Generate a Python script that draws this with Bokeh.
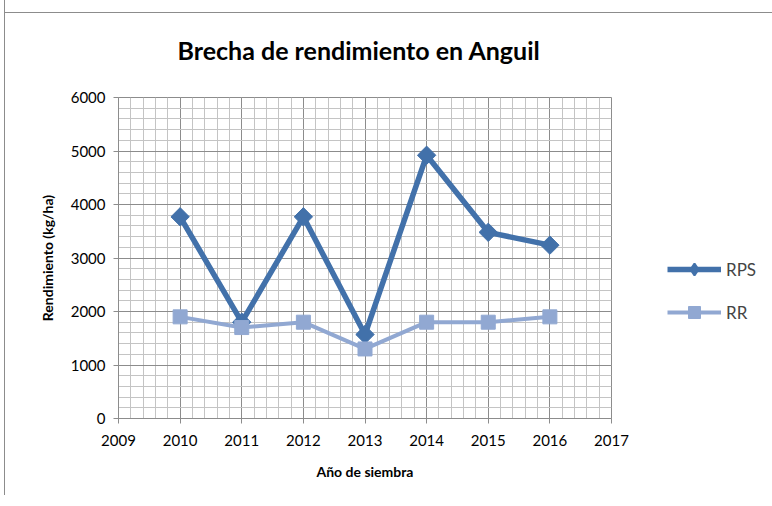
from bokeh.plotting import figure
from bokeh.models import SingleIntervalTicker, Legend, LegendItem, Range1d, Title
from bokeh.embed import file_html
from bokeh.resources import INLINE
import math

# Data
years = [2010, 2011, 2012, 2013, 2014, 2015, 2016]
rps = [3770, 1800, 3770, 1570, 4920, 3480, 3240]
rr = [1900, 1700, 1800, 1300, 1800, 1800, 1900]

title_text = "Brecha de rendimiento en Anguil"
x_label = "Año de siembra"
y_label = "Rendimiento (kg/ha)"
series_names = ["RPS", "RR"]

FONT = "Lato"
RPS_COLOR = "#4271AA"
RR_COLOR = "#91A8D2"
GRID_MAJOR = "#8c8c8c"
GRID_MINOR = "#c4c4c4"

p = figure(
    output_backend="svg", toolbar_location=None,
    frame_width=493, frame_height=321,
    min_border_left=113, min_border_right=150,
    min_border_top=85, min_border_bottom=77,
    x_range=Range1d(2009, 2017), y_range=Range1d(0, 6000),
)
p.title = None
t = Title(text=title_text, align="left", offset=59,
          text_font=FONT, text_font_size="25px",
          text_font_style="bold", text_color="black", standoff=66)
p.add_layout(t, "above")

p.border_fill_color = None
p.styles = {
    "border-left": "1px solid #8c8c8c",
    "margin-left": "4px",
    "margin-top": "-1px",
    "background-image": "linear-gradient(#8c8c8c, #8c8c8c)",
    "background-position": "0 13px",
    "background-size": "100% 1px",
    "background-repeat": "no-repeat",
}

p.xaxis.ticker = SingleIntervalTicker(interval=1, num_minor_ticks=5)
p.yaxis.ticker = SingleIntervalTicker(interval=1000, num_minor_ticks=5)
p.xgrid.ticker = p.xaxis.ticker
p.ygrid.ticker = p.yaxis.ticker

for g in (p.xgrid, p.ygrid):
    g.grid_line_color = GRID_MAJOR
    g.grid_line_width = 1
    g.minor_grid_line_color = GRID_MINOR
    g.minor_grid_line_width = 1

for ax in (p.xaxis, p.yaxis):
    ax.axis_line_color = GRID_MAJOR
    ax.major_tick_line_color = GRID_MAJOR
    ax.major_tick_out = 5
    ax.major_tick_in = 0
    ax.minor_tick_line_color = None
    ax.major_label_text_font = FONT
    ax.major_label_text_font_size = "15px"
    ax.major_label_text_color = "black"
    ax.axis_label_text_font = FONT
    ax.axis_label_text_font_size = "14px"
    ax.axis_label_text_font_style = "bold"
    ax.axis_label_text_color = "black"

p.xaxis.major_label_standoff = 11
p.yaxis.major_label_standoff = 8
p.xaxis.axis_label = x_label
p.yaxis.axis_label = y_label
p.xaxis.axis_label_standoff = 14
p.yaxis.axis_label_standoff = 12
p.outline_line_color = GRID_MAJOR

l1 = p.line(years, rps, line_color=RPS_COLOR, line_width=5.5)
# diamond used for the legend (legend markers are drawn unrotated); hidden under the rotated squares
d1 = p.scatter(years, rps, marker="diamond", size=12, fill_color=RPS_COLOR,
               line_color=RPS_COLOR, line_width=2)
m1 = p.scatter(years, rps, marker="square", angle=math.pi / 4, size=13,
               fill_color=RPS_COLOR, line_color=RPS_COLOR)
l2 = p.line(years, rr, line_color=RR_COLOR, line_width=4)
m2 = p.scatter(years, rr, marker="square", size=14,
               fill_color=RR_COLOR, line_color=RR_COLOR)

legend = Legend(
    items=[LegendItem(label=series_names[0], renderers=[l1, d1]),
           LegendItem(label=series_names[1], renderers=[l2, m2])],
    location=(56, 91), padding=0, margin=0, spacing=13,
    glyph_width=54, glyph_height=30, label_standoff=5,
    label_text_font=FONT, label_text_font_size="17px",
    border_line_color=None, background_fill_alpha=0,
)
p.add_layout(legend, "right")

open("out.html", "w").write(file_html(p, INLINE))
